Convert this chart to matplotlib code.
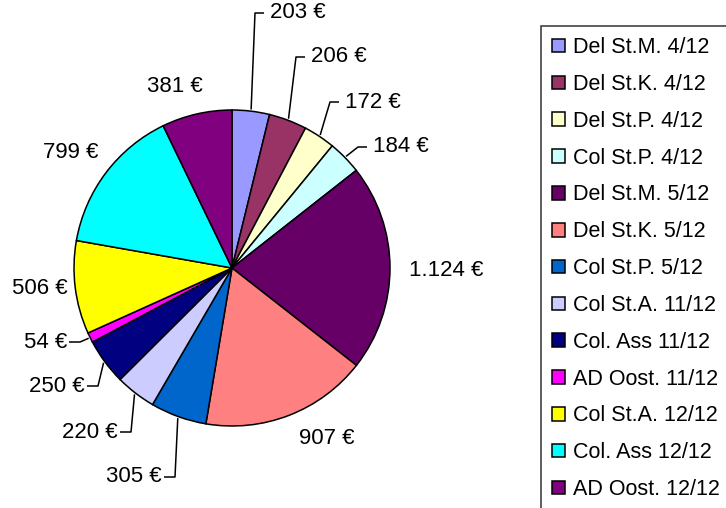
import numpy as np
import matplotlib
matplotlib.use("Agg")
import matplotlib.pyplot as plt

plt.rcParams['font.family'] = ['Liberation Sans', 'DejaVu Sans']

categories = ["Del St.M. 4/12", "Del St.K. 4/12", "Del St.P. 4/12", "Col St.P. 4/12",
              "Del St.M. 5/12", "Del St.K. 5/12", "Col St.P. 5/12", "Col St.A. 11/12",
              "Col. Ass 11/12", "AD Oost. 11/12", "Col St.A. 12/12", "Col. Ass 12/12",
              "AD Oost. 12/12"]
values = [203, 206, 172, 184, 1124, 907, 305, 220, 250, 54, 506, 799, 381]
colors = ["#9999FF", "#993366", "#FFFFCC", "#CCFFFF", "#660066", "#FF8080", "#0066CC",
          "#CCCCFF", "#000080", "#FF00FF", "#FFFF00", "#00FFFF", "#800080"]

# label layout (pixel coords from top-left), alignment, leader flag
label_xy = [(270, 13), (311, 57), (345, 102), (373, 147), (409, 271), (299, 439),
            (162, 477), (118, 432), (85, 386), (67, 342), (68, 288), (98, 153), (203, 86)]
label_ha = ['left', 'left', 'left', 'left', 'left', 'left',
            'right', 'right', 'right', 'right', 'right', 'right', 'right']
has_leader = [True, True, True, True, False, False, True, True, True, True, False, False, False]

W, H = 726, 508
fig = plt.figure(figsize=(W / 100, H / 100), dpi=100)
ax = fig.add_axes([0, 0, 1, 1])

cx, cy, R = 232, H - 268, 158
wedges, _ = ax.pie(values, colors=colors, startangle=90, counterclock=False,
                   center=(cx, cy), radius=R,
                   wedgeprops=dict(edgecolor='black', linewidth=1.1))
ax.set_xlim(0, W)
ax.set_ylim(0, H)
ax.set_aspect('equal')
ax.axis('off')

def fmt(v):
    return f"{v:,}".replace(",", ".") + " €"

for w, v, (lx, ly), ha, lead in zip(wedges, values, label_xy, label_ha, has_leader):
    Y = H - ly
    ax.text(lx, Y, fmt(v), ha=ha, va='center', fontsize=16, color='black')
    if lead:
        mid = np.deg2rad((w.theta1 + w.theta2) / 2)
        ex, ey = cx + 1.01 * R * np.cos(mid), cy + 1.01 * R * np.sin(mid)
        if ha == 'left':
            end = lx - 6
            elbow = end - 9
        else:
            end = lx + 2
            elbow = end + 11
        ax.plot([ex, elbow, end], [ey, Y, Y], color='black', lw=1.1, solid_capstyle='butt')

leg = ax.legend(wedges, categories, loc='upper left',
                bbox_to_anchor=(541 / W, 1 - 26 / H), bbox_transform=fig.transFigure,
                fontsize=15.5, frameon=True, fancybox=False, shadow=False,
                handlelength=0.6, handleheight=0.6, handletextpad=0.35,
                labelspacing=0.735, borderpad=0.52, borderaxespad=0)
leg.get_frame().set_edgecolor('black')
leg.get_frame().set_linewidth(1.1)
for p in leg.get_patches():
    p.set_edgecolor('black')
    p.set_linewidth(1.1)

fig.savefig("out.png", dpi=100)
